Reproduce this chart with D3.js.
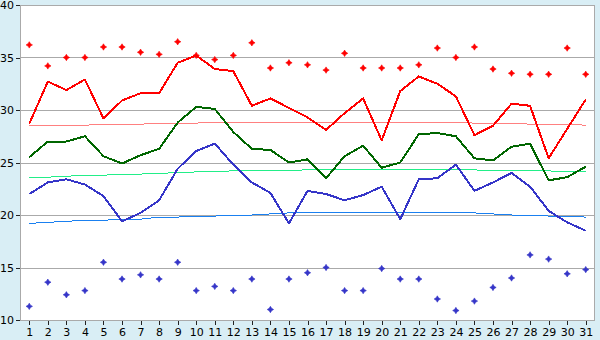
<!DOCTYPE html>
<html>
<head>
<meta charset="utf-8">
<script src="https://cdn.jsdelivr.net/npm/d3@7"></script>
<style>
  html, body { margin: 0; padding: 0; background: #d9eef5; }
  svg { display: block; }
  text { font-family: "DejaVu Sans", Verdana, sans-serif; font-size: 11px; fill: #000; }
</style>
</head>
<body>
<svg id="chart" width="600" height="340"></svg>
<script>
// day of month and y ticks
var days = d3.range(1, 32);
var yTicks = [10, 15, 20, 25, 30, 35, 40];

// daily values
var maxTemp  = [28.7, 32.7, 31.9, 32.9, 29.2, 30.9, 31.6, 31.6, 34.5, 35.2, 33.9, 33.7, 30.4, 31.1, 30.2, 29.3, 28.1, 29.7, 31.1, 27.1, 31.8, 33.2, 32.5, 31.3, 27.6, 28.5, 30.6, 30.4, 25.4, 28.2, 31.0];
var meanTemp = [25.5, 27.0, 27.0, 27.5, 25.6, 24.9, 25.7, 26.3, 28.8, 30.3, 30.1, 27.9, 26.3, 26.2, 25.0, 25.3, 23.5, 25.6, 26.6, 24.5, 25.0, 27.7, 27.8, 27.5, 25.4, 25.2, 26.5, 26.8, 23.3, 23.6, 24.6];
var minTemp  = [22.0, 23.1, 23.4, 22.9, 21.8, 19.4, 20.2, 21.4, 24.4, 26.1, 26.8, 24.8, 23.1, 22.1, 19.2, 22.3, 22.0, 21.4, 21.9, 22.7, 19.6, 23.4, 23.5, 24.8, 22.3, 23.1, 24.0, 22.7, 20.4, 19.3, 18.5];

// records
var recordHigh = [36.2, 34.2, 35.0, 35.0, 36.0, 36.0, 35.5, 35.3, 36.5, 35.2, 34.8, 35.2, 36.4, 34.0, 34.5, 34.3, 33.8, 35.4, 34.0, 34.0, 34.0, 34.3, 35.9, 35.0, 36.0, 33.9, 33.5, 33.4, 33.4, 35.9, 33.4];
var recordLow  = [11.3, 13.6, 12.4, 12.8, 15.5, 13.9, 14.3, 13.9, 15.5, 12.8, 13.2, 12.8, 13.9, 11.0, 13.9, 14.5, 15.0, 12.8, 12.8, 14.9, 13.9, 13.9, 12.0, 10.9, 11.8, 13.1, 14.0, 16.2, 15.8, 14.4, 14.8];

// normals
var normalMax  = [28.5, 28.5, 28.55, 28.55, 28.65, 28.65, 28.65, 28.75, 28.75, 28.75, 28.85, 28.85, 28.85, 28.85, 28.85, 28.85, 28.85, 28.85, 28.85, 28.85, 28.85, 28.85, 28.85, 28.85, 28.75, 28.75, 28.75, 28.65, 28.65, 28.65, 28.55];
var normalMean = [23.6, 23.6, 23.7, 23.75, 23.8, 23.85, 23.9, 23.95, 24.05, 24.1, 24.15, 24.2, 24.2, 24.25, 24.25, 24.3, 24.3, 24.3, 24.3, 24.3, 24.3, 24.3, 24.3, 24.3, 24.3, 24.2, 24.2, 24.2, 24.2, 24.1, 24.1];
var normalMin  = [19.2, 19.3, 19.4, 19.5, 19.5, 19.6, 19.6, 19.8, 19.8, 19.9, 19.9, 20.0, 20.0, 20.1, 20.2, 20.2, 20.2, 20.2, 20.2, 20.2, 20.2, 20.2, 20.2, 20.2, 20.2, 20.1, 20.0, 20.0, 19.9, 19.9, 19.8];

var svg = d3.select("#chart");
var plotL = 20, plotR = 595, plotT = 5, plotB = 320;

var x = d3.scalePoint().domain(days).range([plotL, plotR]).padding(0.5);
var y = d3.scaleLinear().domain([10, 40]).range([plotB, plotT]);

// plot background
svg.append("rect")
	.attr("x", plotL).attr("y", plotT)
	.attr("width", plotR - plotL).attr("height", plotB - plotT)
	.attr("fill", "#fff");

// grid
svg.append("g")
	.selectAll("line")
	.data(yTicks.slice(1, -1))
	.enter()
  .append("line")
	.attr("x1", plotL).attr("x2", plotR)
	.attr("y1", function (d) { return Math.round(y(d)) + 0.5; })
	.attr("y2", function (d) { return Math.round(y(d)) + 0.5; })
	.attr("stroke", "#aaa")
	.attr("shape-rendering", "crispEdges");

// axes
var yAxis = svg.append("g")
	.attr("transform", "translate(" + plotL + ",0)")
	.call(d3.axisLeft(y).tickValues(yTicks).tickSize(4).tickPadding(2));
var xAxis = svg.append("g")
	.attr("transform", "translate(0," + plotB + ")")
	.call(d3.axisBottom(x).tickSize(5).tickPadding(3));
[yAxis, xAxis].forEach(function (g) {
	g.select(".domain").remove();
	g.selectAll(".tick line").attr("stroke", "#222").attr("shape-rendering", "crispEdges");
	g.selectAll("text").attr("fill", "#000").style("font-family", "'DejaVu Sans', Verdana, sans-serif").style("font-size", "11px");
});

function drawLine(values, colour, width) {
	var line = d3.line()
		.x(function (d, i) { return x(days[i]); })
		.y(function (d) { return y(d); });
	svg.append("path")
		.datum(values)
		.attr("d", line)
		.attr("fill", "none")
		.attr("stroke", colour)
		.attr("stroke-width", width)
		.attr("stroke-linejoin", "round")
		.attr("shape-rendering", "crispEdges");
}

// normals
drawLine(normalMax, "#ff8080", 1);
drawLine(normalMean, "#22ee88", 1);
drawLine(normalMin, "#1a80f0", 1);

// daily lines
drawLine(meanTemp, "#006600", 2);
drawLine(minTemp, "#3535c8", 2);
drawLine(maxTemp, "#ff0000", 2);

// record marks: small four-point stars
function drawMarks(values, colour) {
	svg.append("g")
		.selectAll("path")
		.data(values)
		.enter()
	  .append("path")
		.attr("d", function (d, i) {
			var cx = x(days[i]), cy = y(d), r = 3.2, k = 1.2;
			return "M" + cx + "," + (cy - r) +
				"L" + (cx + k) + "," + (cy - k) + "L" + (cx + r) + "," + cy +
				"L" + (cx + k) + "," + (cy + k) + "L" + cx + "," + (cy + r) +
				"L" + (cx - k) + "," + (cy + k) + "L" + (cx - r) + "," + cy +
				"L" + (cx - k) + "," + (cy - k) + "Z";
		})
		.attr("fill", colour)
		.attr("stroke", colour)
		.attr("stroke-width", 0.6);
}
drawMarks(recordHigh, "#ff0000");
drawMarks(recordLow, "#3535c8");

// border
svg.append("rect")
	.attr("x", plotL + 0.5).attr("y", plotT + 0.5)
	.attr("width", plotR - plotL - 1).attr("height", plotB - plotT)
	.attr("fill", "none")
	.attr("stroke", "#aaa")
	.attr("shape-rendering", "crispEdges");
</script>
</body>
</html>
